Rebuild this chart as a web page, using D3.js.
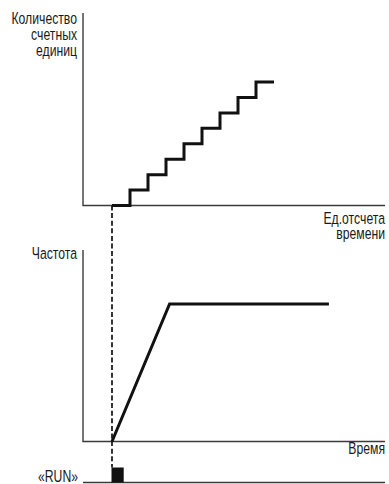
<!DOCTYPE html>
<html>
<head>
<meta charset="utf-8">
<script src="https://cdn.jsdelivr.net/npm/d3@7"></script>
<style>
    body { margin: 0; background: #fff; }
    svg text { font-family: "Liberation Sans", Arial, sans-serif; font-size: 16.5px; fill: #1a1a1a; }
    .axis { stroke: #3a3a3a; stroke-width: 1.4; fill: none; }
    .trace { stroke: #111; stroke-width: 3; fill: none; }
    .marker { stroke: #111; stroke-width: 1.7; stroke-dasharray: 5,2.6; fill: none; }
</style>
</head>
<body>
<svg></svg>
<script>
// Counter pulses: accumulated count at each time unit
const counterTime = [0, 1, 2, 3, 4, 5, 6, 7, 8, 9];
const counterCount = [0, 1, 2, 3, 4, 5, 6, 7, 8, 8];

// Frequency ramp: time and relative frequency
const freqTime = [0, 3.2, 12.05];
const freqValue = [0, 1, 1];

// RUN signal pulse
const runStart = 0;
const runEnd = 0.65;

const topLabel = ["Количество", "счетных", "единиц"];
const topXLabel = ["Ед.отсчета", "времени"];
const bottomLabel = ["Частота"];
const bottomXLabel = ["Время"];
const runLabel = "«RUN»";

const width = 389;
const height = 484;

const svg = d3.select("svg")
    .attr("width", width)
    .attr("height", height);

const axisLeft = 83;
const axisRight = 385;

// shared time scale for both panels
const x = d3.scaleLinear()
    .domain([0, 9])
    .range([112, 274]);

const yTop = d3.scaleLinear()
    .domain([0, 8])
    .range([205.5, 82]);

const yBottom = d3.scaleLinear()
    .domain([0, 1])
    .range([441.5, 304]);

const runBase = 482.5;

// --- top panel axes
svg.append("path")
    .attr("class", "axis")
    .attr("d", `M${axisLeft},13V${yTop(0)}H${axisRight}`);

// --- bottom panel axes
svg.append("path")
    .attr("class", "axis")
    .attr("d", `M${axisLeft},250V${yBottom(0)}H${axisRight}`);

// RUN baseline
svg.append("path")
    .attr("class", "axis")
    .attr("d", `M${axisLeft},${runBase}H${axisRight}`);

// dashed marker at start
svg.append("line")
    .attr("class", "marker")
    .attr("x1", x(runStart)).attr("x2", x(runStart))
    .attr("y1", yTop(0)).attr("y2", runBase - 15);

// staircase
const counterData = counterTime.map((t, i) => [t, counterCount[i]]);
svg.append("path")
    .attr("class", "trace")
    .attr("d", d3.line()
        .x(d => x(d[0]))
        .y(d => yTop(d[1]))
        .curve(d3.curveStepAfter)(counterData));

// frequency ramp
const freqData = freqTime.map((t, i) => [t, freqValue[i]]);
svg.append("path")
    .attr("class", "trace")
    .attr("stroke-linejoin", "miter")
    .attr("d", d3.line()
        .x(d => x(d[0]))
        .y(d => yBottom(d[1]))(freqData));

// RUN pulse
svg.append("rect")
    .attr("x", x(runStart) - 0.5)
    .attr("y", runBase - 15)
    .attr("width", x(runEnd) - x(runStart) + 0.5)
    .attr("height", 15)
    .attr("fill", "#111");

// labels, squeezed horizontally to mimic a condensed face
function addLines(lines, xPos, yStart, dy) {
    lines.forEach((t, i) => {
        svg.append("text")
            .attr("transform", `translate(${xPos},${yStart + i * dy}) scale(0.74,1)`)
            .attr("text-anchor", "end")
            .text(t);
    });
}

addLines(topLabel, 77, 24, 16);
addLines(topXLabel, axisRight, 224, 15);
addLines(bottomLabel, 77, 259, 16);
addLines(bottomXLabel, axisRight, 454, 16);
addLines([runLabel], 78, 482, 16);
</script>
</body>
</html>
